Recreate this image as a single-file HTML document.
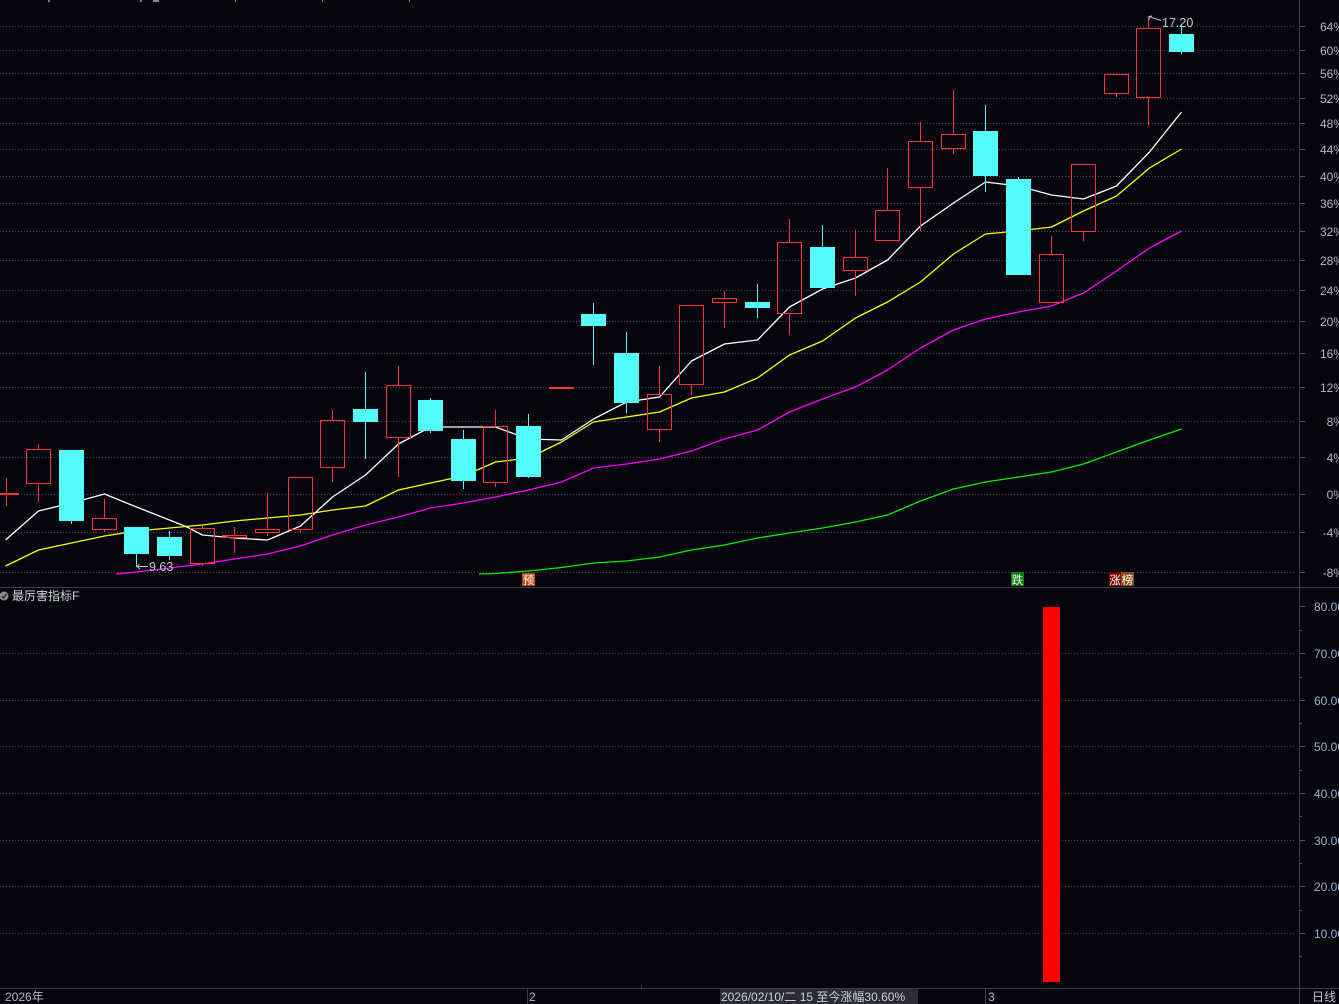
<!DOCTYPE html>
<html><head><meta charset="utf-8"><style>
html,body{margin:0;padding:0;background:#05050e;overflow:hidden}
svg{display:block}
text{font-family:"Liberation Sans","Noto Sans CJK SC",sans-serif}
</style></head><body>
<svg width="1339" height="1004" viewBox="0 0 1339 1004" xmlns="http://www.w3.org/2000/svg">
<rect x="0" y="0" width="1339" height="1004" fill="#05050e"/>

<!-- top tiny marks -->
<rect x="48" y="0" width="2" height="2" fill="#4a8ad0"/>
<rect x="140" y="0" width="2" height="2" fill="#4a8ad0"/>
<rect x="153" y="0" width="6" height="2" fill="#888"/>
<rect x="235" y="0" width="1" height="2" fill="#ff3c3c"/>
<rect x="322" y="0" width="1" height="2" fill="#ff3c3c"/>
<rect x="409" y="0" width="1" height="2" fill="#ff3c3c"/>

<!-- main grid -->
<g stroke="#4a4a52" stroke-width="1" stroke-dasharray="1 2" shape-rendering="crispEdges">
<line x1="0" x2="1296" y1="26.5" y2="26.5"/>
<line x1="0" x2="1296" y1="50.5" y2="50.5"/>
<line x1="0" x2="1296" y1="73.5" y2="73.5"/>
<line x1="0" x2="1296" y1="98.5" y2="98.5"/>
<line x1="0" x2="1296" y1="123.5" y2="123.5"/>
<line x1="0" x2="1296" y1="149.5" y2="149.5"/>
<line x1="0" x2="1296" y1="176.5" y2="176.5"/>
<line x1="0" x2="1296" y1="203.5" y2="203.5"/>
<line x1="0" x2="1296" y1="231.5" y2="231.5"/>
<line x1="0" x2="1296" y1="260.5" y2="260.5"/>
<line x1="0" x2="1296" y1="290.5" y2="290.5"/>
<line x1="0" x2="1296" y1="321.5" y2="321.5"/>
<line x1="0" x2="1296" y1="353.5" y2="353.5"/>
<line x1="0" x2="1296" y1="387.5" y2="387.5"/>
<line x1="0" x2="1296" y1="421.5" y2="421.5"/>
<line x1="0" x2="1296" y1="457.5" y2="457.5"/>
<line x1="0" x2="1296" y1="494.5" y2="494.5"/>
<line x1="0" x2="1296" y1="532.5" y2="532.5"/>
<line x1="0" x2="1296" y1="572.5" y2="572.5"/>
<!-- lower panel grid -->
<line x1="0" x2="1296" y1="653.5" y2="653.5"/>
<line x1="0" x2="1296" y1="700.5" y2="700.5"/>
<line x1="0" x2="1296" y1="746.5" y2="746.5"/>
<line x1="0" x2="1296" y1="793.5" y2="793.5"/>
<line x1="0" x2="1296" y1="840.5" y2="840.5"/>
<line x1="0" x2="1296" y1="886.5" y2="886.5"/>
<line x1="0" x2="1296" y1="933.5" y2="933.5"/>
</g>

<!-- axes / separators -->
<g stroke="#3e3e44" stroke-width="1" shape-rendering="crispEdges">
<line x1="1299.5" y1="0" x2="1299.5" y2="1004"/>
<line x1="0" y1="587.5" x2="1339" y2="587.5"/>
<line x1="0" y1="988.5" x2="1339" y2="988.5"/>
<line x1="527.5" y1="988" x2="527.5" y2="1004"/>
<line x1="985.5" y1="988" x2="985.5" y2="1004"/>
<line x1="641.5" y1="985" x2="641.5" y2="988"/>
</g>
<g stroke="#55555c" stroke-width="1" shape-rendering="crispEdges">
<line x1="1300" x2="1305" y1="26.5" y2="26.5"/>
<line x1="1300" x2="1305" y1="50.5" y2="50.5"/>
<line x1="1300" x2="1305" y1="73.5" y2="73.5"/>
<line x1="1300" x2="1305" y1="98.5" y2="98.5"/>
<line x1="1300" x2="1305" y1="123.5" y2="123.5"/>
<line x1="1300" x2="1305" y1="149.5" y2="149.5"/>
<line x1="1300" x2="1305" y1="176.5" y2="176.5"/>
<line x1="1300" x2="1305" y1="203.5" y2="203.5"/>
<line x1="1300" x2="1305" y1="231.5" y2="231.5"/>
<line x1="1300" x2="1305" y1="260.5" y2="260.5"/>
<line x1="1300" x2="1305" y1="290.5" y2="290.5"/>
<line x1="1300" x2="1305" y1="321.5" y2="321.5"/>
<line x1="1300" x2="1305" y1="353.5" y2="353.5"/>
<line x1="1300" x2="1305" y1="387.5" y2="387.5"/>
<line x1="1300" x2="1305" y1="421.5" y2="421.5"/>
<line x1="1300" x2="1305" y1="457.5" y2="457.5"/>
<line x1="1300" x2="1305" y1="494.5" y2="494.5"/>
<line x1="1300" x2="1305" y1="532.5" y2="532.5"/>
<line x1="1300" x2="1305" y1="572.5" y2="572.5"/>
<line x1="1300" x2="1305" y1="606.5" y2="606.5"/>
<line x1="1300" x2="1302" y1="630.5" y2="630.5"/>
<line x1="1300" x2="1305" y1="653.5" y2="653.5"/>
<line x1="1300" x2="1302" y1="677.5" y2="677.5"/>
<line x1="1300" x2="1305" y1="700.5" y2="700.5"/>
<line x1="1300" x2="1302" y1="723.5" y2="723.5"/>
<line x1="1300" x2="1305" y1="746.5" y2="746.5"/>
<line x1="1300" x2="1302" y1="770.5" y2="770.5"/>
<line x1="1300" x2="1305" y1="793.5" y2="793.5"/>
<line x1="1300" x2="1302" y1="816.5" y2="816.5"/>
<line x1="1300" x2="1305" y1="840.5" y2="840.5"/>
<line x1="1300" x2="1302" y1="863.5" y2="863.5"/>
<line x1="1300" x2="1305" y1="886.5" y2="886.5"/>
<line x1="1300" x2="1302" y1="910.5" y2="910.5"/>
<line x1="1300" x2="1305" y1="933.5" y2="933.5"/>
<line x1="1300" x2="1302" y1="956.5" y2="956.5"/>
</g>

<!-- axis labels -->
<g fill="#aebacb" font-size="12" text-anchor="end">
<text x="1344" y="31">64%</text>
<text x="1344" y="55">60%</text>
<text x="1344" y="78">56%</text>
<text x="1344" y="103">52%</text>
<text x="1344" y="128">48%</text>
<text x="1344" y="154">44%</text>
<text x="1344" y="181">40%</text>
<text x="1344" y="208">36%</text>
<text x="1344" y="236">32%</text>
<text x="1344" y="265">28%</text>
<text x="1344" y="295">24%</text>
<text x="1344" y="326">20%</text>
<text x="1344" y="358">16%</text>
<text x="1344" y="392">12%</text>
<text x="1344" y="426">8%</text>
<text x="1344" y="462">4%</text>
<text x="1344" y="499">0%</text>
<text x="1344" y="537">-4%</text>
<text x="1344" y="577">-8%</text>
</g>
<g fill="#9fb3cc" font-size="12" text-anchor="end">
<text x="1344" y="611">80.00</text>
<text x="1344" y="658">70.00</text>
<text x="1344" y="705">60.00</text>
<text x="1344" y="751">50.00</text>
<text x="1344" y="798">40.00</text>
<text x="1344" y="845">30.00</text>
<text x="1344" y="891">20.00</text>
<text x="1344" y="938">10.00</text>
</g>

<!-- moving averages -->
<g fill="none" stroke-width="1.3" stroke-linejoin="round">
<polyline stroke="#00ee00" points="479,574 495.5,573.5 528.5,571 561.5,567.5 593.5,563 626.5,561 659.5,557 691.5,550 724.5,545 757.5,538 789.5,533 822.5,528 855.5,522 887.5,515 920.5,501 953.5,489 985.5,482 1018.5,477 1051.5,472 1083.5,464 1116.5,452 1149.5,440 1181.5,429"/>
<polyline stroke="#ff00ff" points="116,574 136.5,572 169.5,568 202.5,564 234.5,559 267.5,554 300.5,546 332.5,535 365.5,525 398.5,517 430.5,508 463.5,503 495.5,497 528.5,490 561.5,482 593.5,468 626.5,464 659.5,459 691.5,451 724.5,439 757.5,430 789.5,412 822.5,399 855.5,387 887.5,370 920.5,348 953.5,330 985.5,319 1018.5,312 1051.5,306 1083.5,293 1116.5,271 1149.5,248 1181.5,231"/>
<polyline stroke="#ffff00" points="5.5,566 38.5,550 71.5,543 104.5,536 136.5,531 169.5,528 202.5,525 234.5,521 267.5,518 300.5,515 332.5,510 365.5,506 398.5,490 430.5,483 463.5,476 495.5,462 528.5,458 561.5,442 593.5,422 626.5,417 659.5,412 691.5,398 724.5,392 757.5,378 789.5,355 822.5,341 855.5,318 887.5,302 920.5,282 953.5,254 985.5,234 1018.5,231 1051.5,227 1083.5,211 1116.5,196 1149.5,168 1181.5,149"/>
<polyline stroke="#ffffff" points="5.5,540 38.5,511 71.5,503 104.5,494 136.5,507 169.5,520 187,527 202.5,535 234.5,538 267.5,540 300.5,526 332.5,497 365.5,475 398.5,444 430.5,427 463.5,427 495.5,427 528.5,439 561.5,440 593.5,419 626.5,402 659.5,397 691.5,361 724.5,344 757.5,340 789.5,307 822.5,289 855.5,278 887.5,260 920.5,226 953.5,203 985.5,182 1018.5,186 1051.5,195 1083.5,199 1116.5,186 1149.5,152 1181.5,112"/>
</g>

<!-- candles: red hollow -->
<g stroke="#ff3434" stroke-width="1" fill="none" shape-rendering="crispEdges">
<line x1="6.5" y1="478" x2="6.5" y2="506"/>
<rect x="26.5" y="449.5" width="24" height="34"/>
<line x1="38.5" y1="444" x2="38.5" y2="449"/><line x1="38.5" y1="484" x2="38.5" y2="502"/>
<rect x="92.5" y="518.5" width="24" height="11"/>
<line x1="104.5" y1="499" x2="104.5" y2="518"/><line x1="104.5" y1="530" x2="104.5" y2="532"/>
<rect x="190.5" y="528.5" width="24" height="35"/>
<line x1="202.5" y1="526" x2="202.5" y2="528"/><line x1="202.5" y1="564" x2="202.5" y2="566"/>
<rect x="222.5" y="535.5" width="24" height="2"/>
<line x1="234.5" y1="527" x2="234.5" y2="535"/><line x1="234.5" y1="538" x2="234.5" y2="553"/>
<rect x="255.5" y="529.5" width="24" height="3"/>
<line x1="267.5" y1="493" x2="267.5" y2="529"/><line x1="267.5" y1="533" x2="267.5" y2="536"/>
<rect x="288.5" y="477.5" width="24" height="52"/>
<line x1="300.5" y1="530" x2="300.5" y2="533"/>
<rect x="320.5" y="420.5" width="24" height="47"/>
<line x1="332.5" y1="410" x2="332.5" y2="420"/><line x1="332.5" y1="468" x2="332.5" y2="482"/>
<rect x="386.5" y="385.5" width="24" height="52"/>
<line x1="398.5" y1="366" x2="398.5" y2="385"/><line x1="398.5" y1="438" x2="398.5" y2="477"/>
<rect x="483.5" y="426.5" width="24" height="56"/>
<line x1="495.5" y1="410" x2="495.5" y2="426"/><line x1="495.5" y1="483" x2="495.5" y2="487"/>
<rect x="647.5" y="394.5" width="24" height="35"/>
<line x1="659.5" y1="366" x2="659.5" y2="394"/><line x1="659.5" y1="430" x2="659.5" y2="442"/>
<rect x="679.5" y="305.5" width="24" height="79"/>
<line x1="691.5" y1="385" x2="691.5" y2="395"/>
<rect x="712.5" y="298.5" width="24" height="4"/>
<line x1="724.5" y1="291" x2="724.5" y2="298"/><line x1="724.5" y1="303" x2="724.5" y2="328"/>
<rect x="777.5" y="242.5" width="24" height="71"/>
<line x1="789.5" y1="219" x2="789.5" y2="242"/><line x1="789.5" y1="314" x2="789.5" y2="335"/>
<rect x="843.5" y="257.5" width="24" height="13"/>
<line x1="855.5" y1="230" x2="855.5" y2="257"/><line x1="855.5" y1="271" x2="855.5" y2="296"/>
<rect x="875.5" y="210.5" width="24" height="30"/>
<line x1="887.5" y1="168" x2="887.5" y2="210"/>
<rect x="908.5" y="141.5" width="24" height="46"/>
<line x1="920.5" y1="122" x2="920.5" y2="141"/><line x1="920.5" y1="188" x2="920.5" y2="231"/>
<rect x="941.5" y="134.5" width="24" height="14"/>
<line x1="953.5" y1="90" x2="953.5" y2="134"/><line x1="953.5" y1="149" x2="953.5" y2="154"/>
<rect x="1039.5" y="254.5" width="24" height="48"/>
<line x1="1051.5" y1="236" x2="1051.5" y2="254"/>
<rect x="1071.5" y="164.5" width="24" height="67"/>
<line x1="1083.5" y1="232" x2="1083.5" y2="241"/>
<rect x="1104.5" y="74.5" width="24" height="19"/>
<line x1="1116.5" y1="94" x2="1116.5" y2="97"/>
<rect x="1136.5" y="28.5" width="24" height="69"/>
<line x1="1148.5" y1="17" x2="1148.5" y2="28"/><line x1="1148.5" y1="98" x2="1148.5" y2="126"/>
</g>
<g fill="#ff3434" shape-rendering="crispEdges">
<rect x="0" y="493" width="19" height="2"/>
<rect x="549" y="387" width="25" height="2"/>
</g>

<!-- candles: cyan filled -->
<g stroke="#54fcfc" stroke-width="1" shape-rendering="crispEdges">
<line x1="71.5" y1="450" x2="71.5" y2="524"/>
<line x1="136.5" y1="527" x2="136.5" y2="567"/>
<line x1="169.5" y1="531" x2="169.5" y2="560"/>
<line x1="365.5" y1="372" x2="365.5" y2="459"/>
<line x1="430.5" y1="398" x2="430.5" y2="433"/>
<line x1="463.5" y1="430" x2="463.5" y2="489"/>
<line x1="528.5" y1="414" x2="528.5" y2="478"/>
<line x1="593.5" y1="303" x2="593.5" y2="365"/>
<line x1="626.5" y1="332" x2="626.5" y2="413"/>
<line x1="757.5" y1="284" x2="757.5" y2="318"/>
<line x1="822.5" y1="225" x2="822.5" y2="288"/>
<line x1="985.5" y1="105" x2="985.5" y2="192"/>
<line x1="1018.5" y1="177" x2="1018.5" y2="275"/>
<line x1="1181.5" y1="24" x2="1181.5" y2="54"/>
</g>
<g fill="#54fcfc" shape-rendering="crispEdges">
<rect x="59" y="450" width="25" height="71"/>
<rect x="124" y="527" width="25" height="27"/>
<rect x="157" y="537" width="25" height="19"/>
<rect x="353" y="409" width="25" height="13"/>
<rect x="418" y="400" width="25" height="31"/>
<rect x="451" y="439" width="25" height="42"/>
<rect x="516" y="426" width="25" height="51"/>
<rect x="581" y="314" width="25" height="12"/>
<rect x="614" y="353" width="25" height="50"/>
<rect x="745" y="302" width="25" height="6"/>
<rect x="810" y="247" width="25" height="41"/>
<rect x="973" y="131" width="25" height="45"/>
<rect x="1006" y="179" width="25" height="96"/>
<rect x="1169" y="34" width="25" height="18"/>
</g>

<!-- min / max price markers -->
<g stroke="#c8c8c8" stroke-width="1" fill="none">
<line x1="137" y1="566.5" x2="148" y2="566.5"/>
<polyline points="140,564 137,566.5 140,569"/>
<line x1="1149" y1="16.5" x2="1161" y2="20.5"/>
<polyline points="1149,20 1149,16.5 1152,16"/>
</g>
<text x="149" y="571" font-size="12.5" fill="#c8c8c8">9.63</text>
<text x="1162" y="27" font-size="12.5" fill="#c8c8c8">17.20</text>

<!-- signal tags -->
<rect x="522" y="573" width="13" height="13" fill="#b84810"/>
<text x="528.5" y="584" font-size="11.5" fill="#ffffff" text-anchor="middle">预</text>
<rect x="1011" y="572" width="13" height="14" fill="#0c7d0c"/>
<text x="1017.5" y="584" font-size="11.5" fill="#ffffff" text-anchor="middle">跌</text>
<rect x="1109" y="572" width="12" height="14" fill="#7a0404"/>
<rect x="1121" y="572" width="13" height="14" fill="#8a4a12"/>
<text x="1115" y="584" font-size="11.5" fill="#ffffff" text-anchor="middle">涨</text>
<text x="1127.5" y="584" font-size="11.5" fill="#ffffff" text-anchor="middle">榜</text>

<!-- lower panel -->
<circle cx="4" cy="596" r="4.5" fill="#8c8c8c"/>
<polyline points="1.8,596 3.6,598 6.4,594" fill="none" stroke="#1a1a1a" stroke-width="1.2"/>
<text x="12" y="600" font-size="12" fill="#d2d6de">最厉害指标F</text>
<rect x="1043" y="607" width="17" height="375" fill="#ff0000"/>

<!-- bottom status bar -->
<text x="5" y="1001" font-size="12" fill="#b4b8c0">2026年</text>
<text x="529" y="1001" font-size="12" fill="#b4b8c0">2</text>
<rect x="720" y="989" width="198" height="15" fill="#2c2c34"/>
<text x="721" y="1001" font-size="12" fill="#cfd2d8">2026/02/10/二 15 至今涨幅30.60%</text>
<text x="988" y="1001" font-size="12" fill="#b4b8c0">3</text>
<text x="1312" y="1001" font-size="12" fill="#c4c8d0">日线</text>
</svg>
</body></html>
